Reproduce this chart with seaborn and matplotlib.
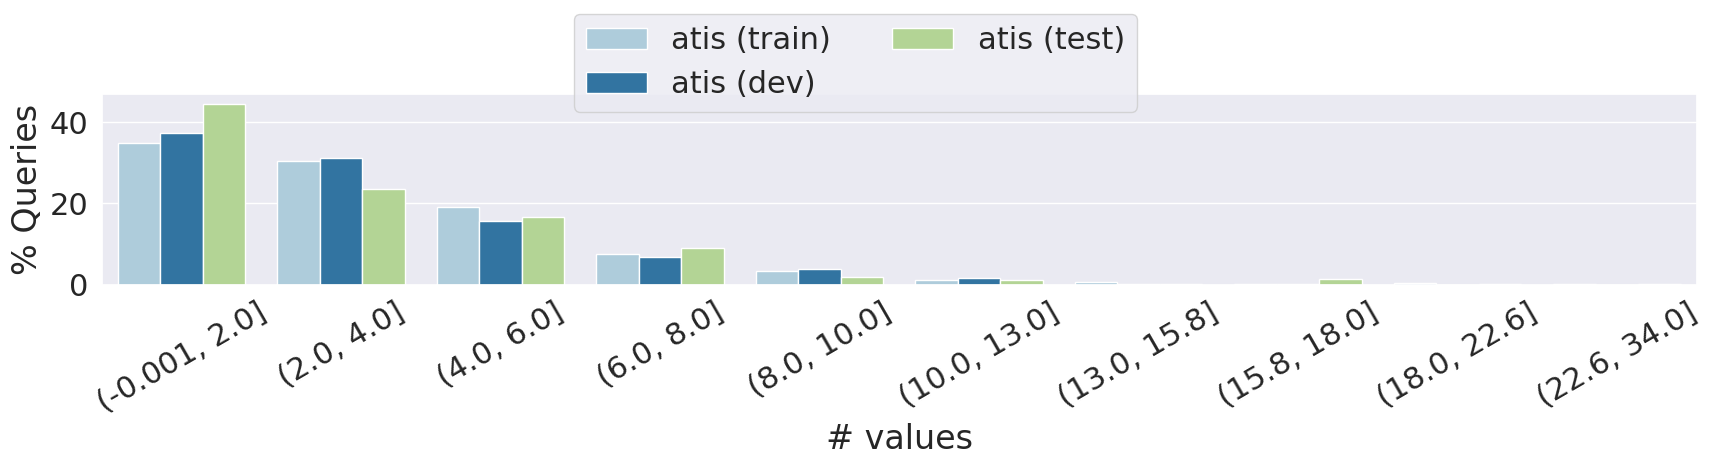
import numpy as np
import pandas as pd
import matplotlib
matplotlib.use("Agg")
import matplotlib.pyplot as plt
import seaborn as sns

# binned number of values per query, % of queries in each split
bins = ["(-0.001, 2.0]", "(2.0, 4.0]", "(4.0, 6.0]", "(6.0, 8.0]", "(8.0, 10.0]",
        "(10.0, 13.0]", "(13.0, 15.8]", "(15.8, 18.0]", "(18.0, 22.6]", "(22.6, 34.0]"]
train = [35.0, 30.6, 19.1, 7.5, 3.4, 1.1, 0.7, 0.25, 0.3, 0.05]
dev = [37.5, 31.3, 15.8, 6.7, 3.9, 1.6, 0.05, 0.05, 0.0, 0.0]
test = [44.6, 23.5, 16.6, 8.9, 1.9, 1.1, 0.05, 1.3, 0.05, 0.05]
splits = ["atis (train)", "atis (dev)", "atis (test)"]

df = pd.DataFrame({
    "bin": bins * 3,
    "pct": train + dev + test,
    "split": np.repeat(splits, len(bins)),
})

sns.set(font_scale=2)
fig, ax = plt.subplots(figsize=(17.11, 4.68), dpi=100)
sns.barplot(data=df, x="bin", y="pct", hue="split", palette="Paired", ax=ax)

ax.set_xlabel("# values")
ax.set_ylabel("% Queries")
ax.set_ylim(0, 47)
ax.set_yticks([0, 20, 40])
plt.setp(ax.get_xticklabels(), rotation=30)

ax.legend(loc="upper center", bbox_to_anchor=(0.5, 1.003), bbox_transform=fig.transFigure,
          ncol=2, title=None)

fig.subplots_adjust(left=0.0594, right=0.9916, top=0.799, bottom=0.392)
fig.savefig("out.png", dpi=100)
